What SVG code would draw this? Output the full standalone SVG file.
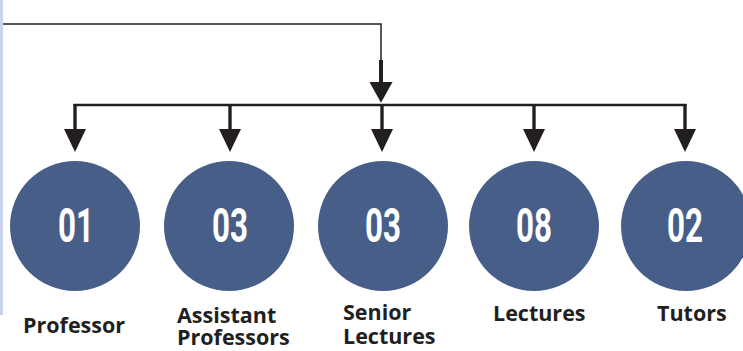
<svg xmlns="http://www.w3.org/2000/svg" xmlns:xlink="http://www.w3.org/1999/xlink" width="743" height="351" viewBox="0 0 743 351">
  <style>
    .ln { stroke: #231f20; fill: none; }
    .head { fill: #231f20; }
    .circ { fill: #475e89; }
    .num { fill: #ffffff; font-family: Roboto, "Liberation Sans", sans-serif; font-weight: 700; font-size: 48px; text-anchor: middle; }
    .lbl { fill: #231f20; font-family: "Open Sans", "Liberation Sans", sans-serif; font-weight: 700; font-size: 21.5px; }
  </style>
  <defs>
    <polygon id="ah" points="-11,0 11,0 0,23"/>
  </defs>
  <rect width="743" height="351" fill="#ffffff"/>
  <rect x="0" y="0" width="3" height="315" fill="#c9d5ee"/>
  <g id="connectors">
    <polyline class="ln" stroke-width="1.5" points="3,24 381,24 381,62"/>
    <line class="ln" stroke-width="4" x1="381" y1="60" x2="381" y2="86"/>
    <use xlink:href="#ah" class="head" transform="translate(381,82) scale(1.05,0.9)"/>
    <line class="ln" stroke-width="2.5" x1="73.5" y1="105" x2="686.5" y2="105"/>
    <line class="ln" stroke-width="3.4" x1="75" y1="104" x2="75" y2="131"/>
    <line class="ln" stroke-width="3.4" x1="230" y1="104" x2="230" y2="131"/>
    <line class="ln" stroke-width="3.4" x1="382" y1="104" x2="382" y2="131"/>
    <line class="ln" stroke-width="3.4" x1="534" y1="104" x2="534" y2="131"/>
    <line class="ln" stroke-width="3.4" x1="685" y1="104" x2="685" y2="131"/>
    <use xlink:href="#ah" class="head" transform="translate(75,129)"/>
    <use xlink:href="#ah" class="head" transform="translate(230,129)"/>
    <use xlink:href="#ah" class="head" transform="translate(382,129)"/>
    <use xlink:href="#ah" class="head" transform="translate(534,129)"/>
    <use xlink:href="#ah" class="head" transform="translate(685,129)"/>
  </g>
  <g id="node-professor">
    <circle class="circ" cx="75" cy="226" r="65"/>
    <text class="num" x="76" y="242" textLength="36" lengthAdjust="spacingAndGlyphs">01</text>
    <text class="lbl" x="23" y="333">Professor</text>
  </g>
  <g id="node-assistant-professors">
    <circle class="circ" cx="229" cy="226" r="65"/>
    <text class="num" x="230" y="242" textLength="36" lengthAdjust="spacingAndGlyphs">03</text>
    <text class="lbl" x="177" y="323">Assistant</text>
    <text class="lbl" x="177" y="345">Professors</text>
  </g>
  <g id="node-senior-lectures">
    <circle class="circ" cx="383" cy="226" r="65"/>
    <text class="num" x="383" y="242" textLength="36" lengthAdjust="spacingAndGlyphs">03</text>
    <text class="lbl" x="343" y="320">Senior</text>
    <text class="lbl" x="343" y="344">Lectures</text>
  </g>
  <g id="node-lectures">
    <circle class="circ" cx="534" cy="226" r="65"/>
    <text class="num" x="534" y="242" textLength="36" lengthAdjust="spacingAndGlyphs">08</text>
    <text class="lbl" x="493" y="321">Lectures</text>
  </g>
  <g id="node-tutors">
    <circle class="circ" cx="686" cy="226" r="65"/>
    <text class="num" x="685" y="242" textLength="36" lengthAdjust="spacingAndGlyphs">02</text>
    <text class="lbl" x="657" y="321">Tutors</text>
  </g>
</svg>
